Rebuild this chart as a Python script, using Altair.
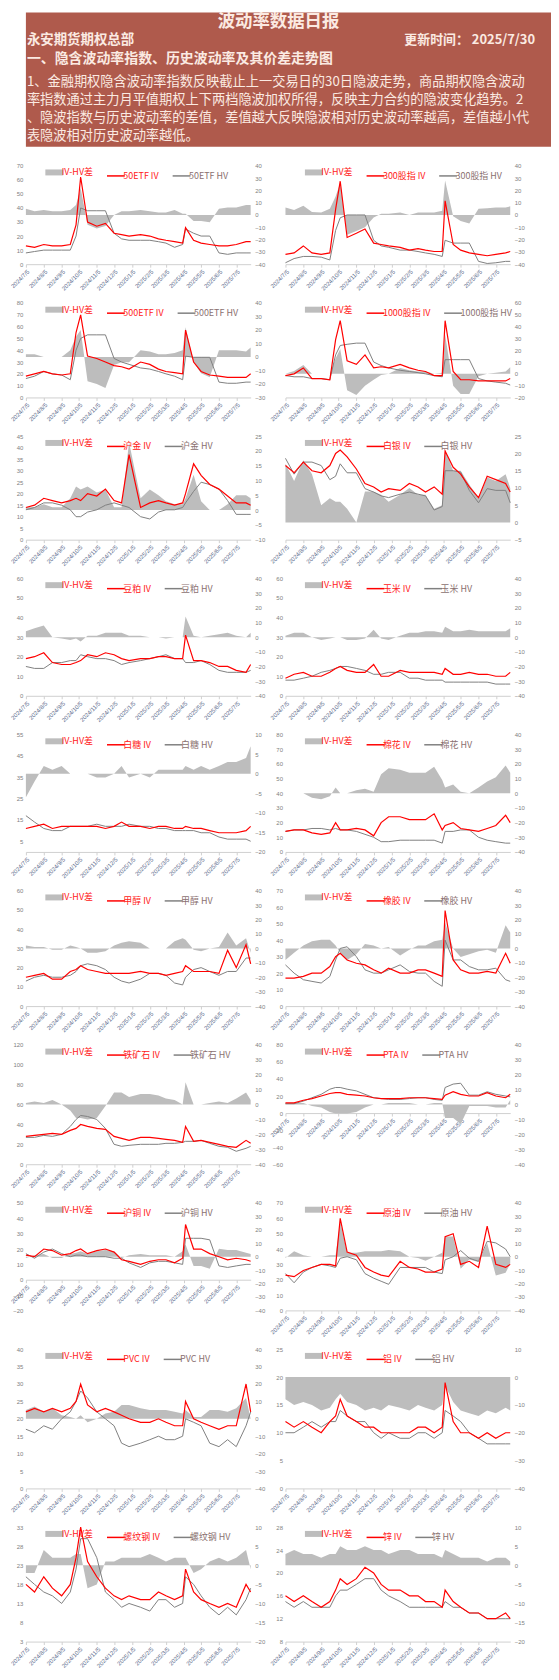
import altair as alt
import pandas as pd

# ---------------- data ----------------
DATES = ["2024-07-05", "2024-07-20", "2024-08-05", "2024-08-20", "2024-09-05", "2024-09-20",
         "2024-09-30", "2024-10-08", "2024-10-20", "2024-11-05", "2024-11-20", "2024-12-05",
         "2024-12-18", "2024-12-31", "2025-01-20", "2025-02-05", "2025-02-20", "2025-03-05",
         "2025-03-20", "2025-04-03", "2025-04-08", "2025-04-22", "2025-05-05", "2025-05-20",
         "2025-06-05", "2025-06-20", "2025-07-05", "2025-07-22", "2025-07-30"]

IV_50ETF = [13, 12, 14, 13, 13, 14, 28, 62, 30, 27, 29, 22, 21, 20, 21, 20, 18, 17, 16, 15, 26, 17, 15, 14, 13, 13, 14, 16, 16]
HV_50ETF = [8, 9, 10, 10, 10, 10, 20, 40, 38, 38, 38, 22, 18, 17, 17, 17, 16, 15, 12, 14, 25, 22, 20, 20, 8, 7, 8, 8, 8]

IV_300 = [17, 18, 23, 18, 17, 18, 49, 69, 29, 32, 35, 25, 24, 23, 22, 20, 21, 20, 19, 19, 55, 24, 20, 18, 17, 16, 17, 18, 19]
HV_300 = [11, 14, 15.5, 15.5, 15, 13, 34, 43, 45, 45, 45, 27, 23, 22, 20, 20, 19, 18, 17, 15.5, 27, 25, 25, 25, 12, 10.5, 11, 12, 12]

IV_500 = [18, 20, 22, 20, 19, 20, 55, 70, 35, 33, 30, 27, 26, 24, 30, 28, 24, 22, 21, 20, 57, 30, 22, 19, 18, 17, 17, 17, 20]
HV_500 = [16, 18, 22, 20, 19, 15, 40, 50, 53, 53, 53, 33, 30, 28, 25, 24, 22, 20, 18, 15, 35, 34, 34, 34, 13, 12, 12, 13, 13]

IV_1000 = [18.5, 20, 25, 16, 16, 15, 49, 65, 31, 28, 36, 25, 26, 25, 28, 25, 23, 22, 18.5, 18.5, 65, 22, 15, 15, 14, 14, 14, 14, 16]
HV_1000 = [18.5, 17.5, 17.5, 16, 16, 15, 36, 44, 45, 46, 46, 30, 27, 25, 23, 22, 21, 20, 18.5, 17.5, 32, 32, 32, 32, 16, 14, 13, 12, 10.5]

IV_AU = [14, 15, 18, 17, 16, 17, 18, 17, 20, 19, 22, 17, 16, 37, 14, 16, 17, 16, 15, 16, 20, 33, 28, 24, 22, 19, 16, 16, 15]
HV_AU = [13, 14, 16, 16, 15, 13, 10, 10, 12, 13, 15, 16, 15, 14, 10, 9, 12, 13, 13, 14, 16, 21, 25, 24, 22, 17, 11, 11, 11]

IV_AG = [21.5, 19.4, 22.5, 20, 19.4, 21.5, 25, 26, 24, 20.5, 16.3, 15.3, 13.8, 14.8, 14.3, 16.3, 15.3, 13.8, 15.3, 13.2, 25.7, 21, 19, 15.3, 12.2, 18.4, 17.4, 16.3, 13.8]
HV_AG = [23.6, 19, 22.5, 22.5, 21.5, 17.4, 18.4, 22, 19.4, 19.4, 14.8, 13.8, 12.7, 12.2, 13.2, 13.8, 13.2, 12.7, 8.6, 9.6, 20, 20, 19.6, 14.3, 10.7, 14.8, 14.3, 14.3, 10.7]
DIFF_AG = [17, 12, 18, 14, 5, 7, 6, 6, 4, 0, 9, 9, 8, 6, 8, 10, 8, 8, 4, 5, 21, 15, 15, 11, 7, 13, 12, 14, 10]

IV_M = [19, 20, 22, 17, 16, 16, 17, 18, 21, 20, 22, 21, 19, 18, 19, 19, 20, 20, 19, 19, 31, 18, 18, 17, 15, 15, 13, 12, 16]
HV_M = [15, 14, 14, 17, 17, 18, 18, 21, 20, 19, 19, 18, 16, 17, 18, 19, 20, 21, 19, 19, 17, 17, 18, 16, 13, 12, 12, 12, 13]

IV_C = [9, 11, 12, 10, 10, 12, 14, 15, 13, 12, 12, 16, 10, 10, 13, 12, 12, 12, 12, 11, 14, 11, 11, 12, 11, 11, 10, 10, 12]
HV_C = [8, 8, 9, 10, 12, 13, 14, 15, 15, 14, 13, 11, 11, 12, 12, 9, 9, 8, 8, 8, 7, 7, 7, 7, 7, 7, 6, 6, 6]

IV_SR = [11, 12, 13, 11, 12, 12, 12, 12, 12, 12, 11, 12, 14, 12, 12, 11, 12, 12, 11, 11, 12, 11, 11, 10, 9, 9, 9, 10, 12]
HV_SR = [17, 14, 11, 10, 10, 12, 12, 12, 12, 13, 12, 12, 12, 13, 12, 12, 11, 11, 10, 10, 10, 10, 9, 9, 7, 6, 6, 6, 5]

IV_CF = [14, 15, 15, 13, 12, 13, 20, 15, 15, 16, 15, 11, 20, 24, 24, 22, 22, 22, 26, 15, 18, 20, 16, 15, 14, 16, 18, 25, 20]
HV_CF = [14, 15, 15, 16, 16, 15, 16, 15, 15, 14, 12, 10, 7, 7, 8, 8, 8, 8, 8, 6, 14, 14, 15, 15, 10, 8, 7, 6, 6]

IV_MA = [15, 16, 17, 14, 14, 18, 19, 21, 19, 18, 17, 17, 17, 17, 18, 17, 17, 16, 17, 18, 21, 18, 18, 18, 17, 29, 20, 32, 22]
HV_MA = [13, 15, 16, 15, 15, 16, 18, 21, 22, 21, 19, 15, 13, 12, 14, 17, 17, 16, 12, 11, 15, 19, 20, 18, 16, 18, 18, 25, 25]

IV_RU = [17, 17, 18, 20, 20, 24, 30, 32, 28, 26, 25, 22, 20, 23, 20, 20, 22, 22, 20, 18, 58, 28, 22, 20, 20, 21, 20, 32, 26]
HV_RU = [25, 20, 16, 15, 14, 18, 28, 35, 36, 30, 22, 20, 20, 22, 25, 21, 20, 20, 15, 12, 40, 28, 28, 24, 22, 22, 23, 16, 15]

IV_I = [28, 29, 30, 31, 30, 34, 36, 40, 38, 36, 35, 28, 26, 24, 27, 27, 26, 25, 24, 22, 38, 23, 24, 22, 20, 18, 17, 24, 21]
HV_I = [27, 27, 29, 28, 30, 38, 45, 49, 48, 45, 36, 20, 18, 19, 20, 20, 20, 21, 21, 22, 23, 23, 24, 21, 18, 17, 13, 16, 18]

IV_TA = [12, 12, 15, 17, 20, 23, 24, 24, 22, 21, 20, 18, 17, 17, 17, 18, 18, 18, 17, 16, 21, 25, 22, 20, 20, 24, 20, 18, 22]
HV_TA = [11, 11, 14, 18, 22, 28, 30, 30, 28, 26, 22, 18, 17, 16, 16, 17, 18, 18, 16, 15, 30, 34, 35, 21, 21, 25, 22, 20, 19]

IV_CU = [16, 15, 20, 19, 16, 17, 19, 20, 17, 19, 20, 18, 13, 12, 10, 12, 13, 13, 11, 14, 36, 20, 20, 17, 15, 13, 14, 13, 12]
HV_CU = [17, 14, 18, 20, 17, 15, 16, 16, 15, 15, 15, 14, 14, 11, 8, 11, 12, 12, 11, 10, 27, 27, 27, 26, 9, 8, 9, 10, 10]

IV_SC = [23, 22, 26, 28, 30, 30, 29, 60, 38, 36, 28, 25, 23, 22, 32, 28, 27, 25, 25, 27, 48, 50, 30, 32, 28, 55, 30, 28, 30]
HV_SC = [24, 18, 25, 28, 30, 29, 28, 34, 35, 33, 24, 21, 19, 17, 28, 28, 28, 28, 25, 24, 33, 35, 39, 34, 32, 45, 44, 40, 35]

IV_V = [22, 23, 22, 23, 22, 23, 25, 30, 24, 22, 23, 22, 21, 20, 19, 19, 20, 19, 18, 18, 25, 20, 19, 18, 17, 18, 18, 30, 22]
HV_V = [17, 16, 18, 17, 20, 22, 25, 28, 26, 22, 20, 18, 13, 12, 13, 14, 15, 14, 14, 15, 20, 19, 18, 13, 12, 14, 12, 18, 22]

IV_AL = [12, 11, 12, 11, 10, 12, 13, 16, 13, 12, 11, 11, 10, 10, 10, 10, 11, 11, 10, 11, 19, 12, 10, 10, 9, 10, 9, 10, 10]
HV_AL = [10, 10, 11, 12, 11, 12, 12, 14, 13, 12, 12, 10, 9, 10, 9, 9, 10, 10, 9, 10, 14, 13, 12, 10, 9, 8, 8, 8, 8]
DIFF_AL = [-8, -10, -9, -10, -12, -11, -8, -6, -9, -10, -12, -11, -12, -10, -11, -12, -10, -11, -12, -10, -3, -9, -12, -13, -14, -12, -13, -11, -12]

IV_RB = [18, 16, 20, 17, 15, 18, 25, 33, 24, 20, 17, 15, 14, 15, 14, 14, 16, 15, 14, 15, 22, 16, 14, 13, 12, 13, 12, 18, 16]
HV_RB = [20, 18, 16, 15, 13, 16, 22, 30, 30, 25, 16, 14, 12, 13, 12, 11, 14, 14, 12, 13, 20, 18, 15, 12, 10, 12, 10, 14, 17]

IV_ZN = [16, 15, 16, 15, 14, 15, 17, 19, 18, 19, 21, 20, 18, 17, 17, 16, 16, 15, 15, 14, 17, 15, 14, 13, 13, 12, 12, 13, 12]
HV_ZN = [15, 14, 15, 14, 14, 14, 16, 17, 17, 18, 19, 19, 17, 16, 15, 14, 14, 14, 14, 14, 15, 14, 14, 13, 13, 12, 12, 12, 12]
DIFF_ZN = [3, 4, 3, 3, 2, 3, 3, 5, 4, 4, 5, 4, 4, 3, 4, 4, 3, 3, 3, 2, 4, 3, 2, 2, 2, 1, 2, 2, 1]

def rng(a, b, s):
    out, v = [], a
    while v <= b + 1e-9:
        out.append(v)
        v += s
    return out

PANELS = [
    dict(name="50ETF", iv=IV_50ETF, hv=HV_50ETF, diff=None, ldom=[0, 70], lt=rng(0, 70, 10), lshow=True, rdom=[-40, 40], rt=rng(-40, 40, 10)),
    dict(name="300股指", iv=IV_300, hv=HV_300, diff=None, ldom=[10, 80], lt=rng(10, 80, 10), lshow=False, rdom=[-40, 40], rt=rng(-40, 40, 10)),
    dict(name="500ETF", iv=IV_500, hv=HV_500, diff=None, ldom=[0, 80], lt=rng(0, 80, 10), lshow=True, rdom=[-30, 40], rt=rng(-30, 40, 10)),
    dict(name="1000股指", iv=IV_1000, hv=HV_1000, diff=None, ldom=[0, 80], lt=rng(0, 80, 10), lshow=False, rdom=[-20, 60], rt=rng(-20, 60, 10)),
    dict(name="沪金", iv=IV_AU, hv=HV_AU, diff=None, ldom=[0, 45], lt=rng(0, 45, 5), lshow=True, rdom=[-10, 25], rt=rng(-10, 25, 5)),
    dict(name="白银", iv=IV_AG, hv=HV_AG, diff=DIFF_AG, ldom=[0, 30], lt=rng(0, 30, 5), lshow=False, rdom=[-5, 25], rt=rng(-5, 25, 5)),
    dict(name="豆粕", iv=IV_M, hv=HV_M, diff=None, ldom=[0, 60], lt=rng(0, 60, 10), lshow=True, rdom=[-40, 40], rt=rng(-40, 40, 10)),
    dict(name="玉米", iv=IV_C, hv=HV_C, diff=None, ldom=[0, 60], lt=rng(0, 60, 10), lshow=True, rdom=[-40, 40], rt=rng(-40, 40, 10)),
    dict(name="白糖", iv=IV_SR, hv=HV_SR, diff=None, ldom=[0, 55], lt=rng(5, 55, 10), lshow=True, rdom=[-20, 10], rt=rng(-20, 10, 5)),
    dict(name="棉花", iv=IV_CF, hv=HV_CF, diff=None, ldom=[0, 80], lt=rng(0, 80, 10), lshow=True, rdom=[-40, 40], rt=rng(-40, 40, 10)),
    dict(name="甲醇", iv=IV_MA, hv=HV_MA, diff=None, ldom=[0, 60], lt=rng(0, 60, 10), lshow=True, rdom=[-40, 40], rt=rng(-40, 40, 10)),
    dict(name="橡胶", iv=IV_RU, hv=HV_RU, diff=None, ldom=[0, 70], lt=rng(0, 70, 10), lshow=True, rdom=[-40, 40], rt=rng(-40, 40, 10)),
    dict(name="铁矿石", iv=IV_I, hv=HV_I, diff=None, ldom=[0, 120], lt=rng(0, 120, 20), lshow=True, rdom=[-40, 40], rt=rng(-40, 40, 10)),
    dict(name="PTA", iv=IV_TA, hv=HV_TA, diff=None, ldom=[-60, 80], lt=rng(-60, 80, 20), lshow=True, rdom=[-40, 40], rt=rng(-40, 40, 10), xoff=60 / 140),
    dict(name="沪铜", iv=IV_CU, hv=HV_CU, diff=None, ldom=[-20, 50], lt=rng(-20, 50, 10), lshow=True, rdom=[-40, 40], rt=rng(-40, 40, 10), xoff=20 / 70),
    dict(name="原油", iv=IV_SC, hv=HV_SC, diff=None, ldom=[0, 70], lt=rng(0, 70, 10), lshow=True, rdom=[-40, 40], rt=rng(-40, 40, 10)),
    dict(name="PVC", iv=IV_V, hv=HV_V, diff=None, ldom=[0, 40], lt=rng(0, 40, 5), lshow=True, rdom=[-40, 40], rt=rng(-40, 40, 10)),
    dict(name="铝", iv=IV_AL, hv=HV_AL, diff=DIFF_AL, ldom=[0, 25], lt=rng(0, 25, 5), lshow=True, rdom=[-40, 10], rt=rng(-40, 10, 10)),
    dict(name="螺纹钢", iv=IV_RB, hv=HV_RB, diff=None, ldom=[3, 33], lt=rng(3, 33, 5), lshow=True, rdom=[-20, 10], rt=rng(-20, 10, 5)),
    dict(name="锌", iv=IV_ZN, hv=HV_ZN, diff=DIFF_ZN, ldom=[8, 28], lt=rng(8, 28, 4), lshow=True, rdom=[-20, 10], rt=rng(-20, 10, 5)),
]

TITLE = "波动率数据日报"
ORG = "永安期货期权总部"
UPDATE = "更新时间： 2025/7/30"
SECTION = "一、隐含波动率指数、历史波动率及其价差走势图"
PARA = ["1、金融期权隐含波动率指数反映截止上一交易日的30日隐波走势，商品期权隐含波动",
        "率指数通过主力月平值期权上下两档隐波加权所得，反映主力合约的隐波变化趋势。2",
        "、隐波指数与历史波动率的差值，差值越大反映隐波相对历史波动率越高，差值越小代",
        "表隐波相对历史波动率越低。"]
DIFF_NAME = "IV-HV差"

# ---------------- style ----------------
AREA_C = "#bdbdbd"
IV_C = "#ff0000"
HV_C = "#808080"
BG = "#af5a4c"
TXT = "#fbeae2"
CJK = "Noto Sans CJK SC"
PW = 226
ROW_H = [99, 95, 104, 118, 118, 116, 120, 108, 140, 115]
TOTAL_W = 528

X_TICKS = [(2024, m) for m in range(7, 13)] + [(2025, m) for m in range(1, 8)]


def x_enc(off):
    return alt.X(
        "date:T",
        scale=alt.Scale(type="utc", domain=[alt.DateTime(year=2024, month=7, date=5, utc=True),
                                            alt.DateTime(year=2025, month=7, date=30, utc=True)]),
        axis=alt.Axis(values=[alt.DateTime(year=y, month=m, date=5, utc=True) for y, m in X_TICKS],
                      format="%Y/%-m/%-d", labelAngle=-45, labelFontSize=6, labelColor="#5b6b8c",
                      labelFont="Liberation Sans", domainColor="#d0d0d0", tickColor="#d0d0d0",
                      tickSize=3, grid=False, title=None, offset=off, labelOverlap=False,
                      labelPadding=1),
    )


def panel(p, H, left_col):
    name = p["name"]
    ni, nh = name + " IV", name + " HV"
    iv, hv = p["iv"], p["hv"]
    assert len(iv) == len(DATES) and len(hv) == len(DATES)
    diff = p["diff"] if p["diff"] is not None else [round(a - b, 2) for a, b in zip(iv, hv)]
    df_a = pd.DataFrame({"date": DATES, "diff": diff, "series": [DIFF_NAME] * len(DATES)})
    df_iv = pd.DataFrame({"date": DATES, "value": iv, "series": [ni] * len(DATES)})
    df_hv = pd.DataFrame({"date": DATES, "value": hv, "series": [nh] * len(DATES)})

    legend = alt.Legend(
        title=None, orient="none", legendX=24, legendY=2, direction="horizontal",
        symbolType="stroke", symbolSize=320,
        symbolStrokeWidth={"expr": "datum.label === '" + DIFF_NAME + "' ? 6 : 1.5"},
        labelColor={"expr": "datum.label === '" + nh + "' ? '#8a7070' : '#ff2020'"},
        labelFont=CJK, labelFontSize=9, columnPadding=10, labelOffset=3,
    )
    color = alt.Color("series:N", scale=alt.Scale(domain=[DIFF_NAME, ni, nh], range=[AREA_C, IV_C, HV_C]),
                      legend=legend)
    off = -H * p.get("xoff", 0)
    x = x_enc(off)
    lext = 18 if left_col else 14
    lax = alt.Axis(orient="left", values=p["lt"], labels=p["lshow"], labelFontSize=6, labelColor="#7f7f7f",
                   labelFont="Liberation Sans", domain=False, ticks=False, grid=False, title=None,
                   minExtent=lext, maxExtent=lext, labelPadding=3)
    rax = alt.Axis(orient="right", values=p["rt"], labelFontSize=6, labelColor="#7f7f7f",
                   labelFont="Liberation Sans", domain=False, ticks=False, grid=False, title=None,
                   minExtent=18, maxExtent=18, labelPadding=4)
    area = alt.Chart(df_a).mark_area(opacity=1).encode(
        x=x,
        y=alt.Y("diff:Q", scale=alt.Scale(domain=p["rdom"], nice=False, zero=False), axis=rax),
        y2=alt.datum(0),
        color=color,
    )
    yl = alt.Y("value:Q", scale=alt.Scale(domain=p["ldom"], nice=False, zero=False), axis=lax)
    hvl = alt.Chart(df_hv).mark_line(strokeWidth=1).encode(x=x, y=yl, color=color)
    ivl = alt.Chart(df_iv).mark_line(strokeWidth=1.2).encode(x=x, y=yl, color=color)
    return alt.layer(area, alt.layer(hvl, ivl)).resolve_scale(y="independent").properties(width=PW, height=H)


# ---------------- header ----------------
def htext(s, x, y, size, weight="bold", align="left"):
    return alt.Chart(pd.DataFrame({"s": [s]})).mark_text(
        align=align, baseline="middle", fontSize=size, fontWeight=weight, color=TXT, font=CJK
    ).encode(x=alt.value(x), y=alt.value(y), text="s:N")


rect = alt.Chart(pd.DataFrame({"v": [0]})).mark_rect(color=BG).encode(
    x=alt.value(0), x2=alt.value(TOTAL_W), y=alt.value(0), y2=alt.value(135))
layers = [rect,
          htext(TITLE, 254, 10, 17.5, align="center"),
          htext(ORG, 1, 28, 13.5),
          htext(UPDATE, 512, 28, 13, align="right"),
          htext(SECTION, 1, 47, 14)]
for i, line in enumerate(PARA):
    layers.append(htext(line, 1, 70 + i * 18, 13.3, weight="normal"))
header = alt.layer(*layers).properties(width=TOTAL_W, height=143)

rows = []
for r in range(10):
    a = panel(PANELS[2 * r], ROW_H[r], True)
    b = panel(PANELS[2 * r + 1], ROW_H[r], False)
    rows.append(alt.hconcat(a, b, spacing=0).resolve_scale(color="independent", x="independent")
                .resolve_legend(color="independent"))

chart = alt.vconcat(header, *rows, spacing=8).resolve_scale(color="independent", x="independent") \
    .resolve_legend(color="independent").properties(padding=0).configure_view(stroke=None)

chart.save("out.html", embed_options={"renderer": "svg", "actions": False})
